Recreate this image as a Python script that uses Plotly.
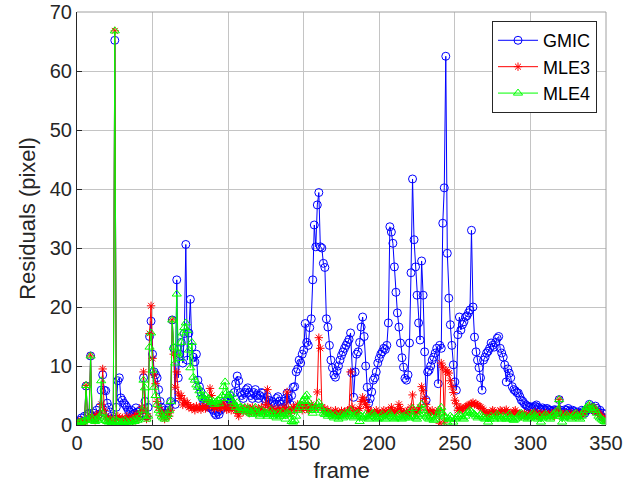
import plotly.graph_objects as go

# Per-frame residuals (pixels) for the three estimators, frames 0..350
gmic = [
    0.5, 0.3, 0.8, 1.2, 0.6, 1.5, 6.6, 1.8, 2.0, 11.7,
    1.5, 2.0, 1.2, 2.5, 1.8, 3.0, 5.9, 8.5, 5.9, 5.8,
    3.7, 3.0, 2.2, 1.5, 1.0, 65.2, 3.0, 7.5, 8.0, 4.6,
    4.2, 3.7, 3.4, 3.0, 2.5, 2.2, 2.5, 1.8, 2.0, 2.9,
    2.2, 1.5, 2.5, 2.0, 8.0, 4.0, 1.5, 3.0, 15.0, 17.6,
    12.0, 9.0, 8.5, 8.0, 6.0, 4.0, 3.0, 2.0, 2.5, 2.0,
    2.5, 3.0, 4.0, 17.8, 13.0, 3.5, 24.6, 8.0, 12.0, 14.0,
    10.5, 15.5, 30.6, 11.0, 15.6, 21.3, 13.2, 11.5, 10.7, 12.0,
    7.6, 6.5, 5.6, 4.5, 3.8, 4.2, 3.5, 3.0, 3.2, 2.8,
    2.5, 2.0, 1.7, 2.2, 1.8, 2.5, 3.0, 3.5, 4.0, 3.8,
    4.5, 5.0, 4.0, 3.5, 5.5, 7.0, 8.3, 7.5, 5.5, 5.0,
    4.5, 5.5, 6.0, 6.3, 5.5, 5.0, 4.5, 5.5, 6.0, 5.0,
    4.5, 5.0, 5.5, 5.4, 4.5, 4.0, 4.8, 4.2, 3.5, 4.0,
    3.8, 3.5, 4.5, 4.8, 4.0, 3.5, 3.0, 4.0, 4.5, 5.4,
    4.5, 3.5, 5.0, 6.4, 6.5, 9.0, 9.5, 11.0, 10.5, 12.0,
    12.7, 17.2, 14.0, 13.5, 16.5, 18.0, 24.6, 33.9, 30.2, 37.3,
    39.4, 30.2, 30.0, 27.4, 26.7, 18.0, 16.6, 13.5, 11.0, 9.7,
    8.5, 8.1, 9.2, 10.0, 11.0, 11.8, 12.4, 13.0, 13.5, 14.0,
    14.5, 15.6, 8.8, 4.7, 9.0, 12.0, 12.4, 14.0, 16.6, 18.3,
    15.0, 10.0, 6.4, 3.7, 4.5, 5.6, 7.6, 8.0, 9.0, 10.5,
    11.3, 12.0, 12.4, 13.0, 12.8, 13.5, 17.3, 33.6, 32.7, 30.8,
    26.8, 22.5, 19.0, 16.6, 13.9, 11.4, 9.8, 7.9, 7.6, 8.5,
    13.9, 25.8, 41.7, 31.4, 26.8, 22.0, 17.3, 14.4, 27.8, 22.0,
    12.4, 4.2, 9.0, 9.3, 10.0, 11.0, 11.5, 12.2, 13.0, 7.0,
    13.5, 13.0, 34.2, 40.2, 62.5, 29.1, 21.5, 17.0, 13.5, 10.2,
    7.3, 5.9, 15.3, 18.3, 16.1, 17.0, 17.5, 18.3, 18.5, 19.0,
    19.5, 33.0, 20.0, 14.9, 12.4, 11.0, 9.7, 8.0, 5.9, 11.0,
    11.5, 12.2, 12.5, 13.0, 13.9, 13.5, 13.2, 14.0, 14.7, 15.0,
    13.0, 12.2, 11.5, 10.2, 7.3, 9.5, 8.8, 8.0, 6.5, 6.0,
    5.8, 5.5, 5.4, 4.8, 4.2, 4.0, 3.6, 3.4, 3.2, 3.0,
    3.1, 2.8, 3.0, 3.2, 3.4, 3.0, 2.8, 2.6, 2.9, 2.7,
    2.5, 2.8, 2.6, 2.5, 2.3, 2.4, 2.6, 2.5, 2.2, 4.3,
    2.5, 2.0, 2.2, 2.6, 2.5, 2.8, 2.4, 2.2, 2.5, 2.3,
    2.0, 2.2, 1.8, 2.0, 2.5, 2.3, 2.0, 2.4, 2.6, 3.5,
    2.8, 3.0, 2.5, 3.2, 2.8, 2.2, 2.5, 1.5, 2.0, 1.8,
    1.2,
]

mle3 = [
    0.3, 0.5, 0.2, 0.8, 0.5, 0.6, 6.7, 1.0, 1.2, 11.7,
    1.5, 1.0, 0.8, 1.8, 1.2, 2.0, 3.5, 9.5, 2.5, 1.5,
    1.0, 0.8, 1.2, 0.6, 0.8, 66.8, 1.0, 1.5, 1.2, 0.8,
    1.2, 0.8, 1.0, 1.5, 0.8, 1.2, 1.0, 0.6, 1.4, 1.8,
    1.5, 1.0, 2.0, 3.0, 9.0, 2.5, 1.0, 1.5, 15.5, 20.2,
    11.3, 8.5, 7.0, 4.0, 3.0, 2.5, 1.5, 2.0, 1.0, 1.5,
    2.0, 1.5, 2.5, 17.8, 12.0, 6.4, 9.0, 5.4, 4.5, 5.0,
    3.4, 4.2, 3.5, 3.8, 3.0, 3.1, 2.8, 3.0, 2.5, 3.2,
    2.8, 3.0, 2.6, 3.0, 3.2, 2.8, 3.0, 4.0, 6.2, 5.0,
    3.0, 2.8, 3.2, 3.0, 2.9, 2.8, 3.5, 3.7, 3.0, 2.6,
    2.8, 3.0, 2.5, 3.5, 3.0, 2.5, 2.0, 1.5, 2.5, 3.0,
    2.2, 2.8, 2.5, 3.0, 2.0, 2.6, 3.0, 2.2, 2.5, 2.0,
    2.8, 2.5, 3.0, 2.5, 2.2, 3.5, 6.0, 3.0, 2.5, 2.8,
    2.2, 2.5, 2.0, 2.8, 2.4, 2.0, 2.5, 3.0, 2.2, 5.6,
    2.5, 2.0, 2.8, 3.0, 2.5, 3.0, 3.5, 2.8, 3.2, 2.5,
    3.0, 3.5, 2.8, 2.5, 3.0, 3.5, 3.2, 2.8, 3.0, 5.6,
    14.8, 13.0, 3.0, 2.5, 2.8, 2.2, 2.5, 2.0, 2.4, 1.8,
    2.0, 2.5, 2.2, 1.8, 2.0, 2.4, 2.0, 2.2, 1.8, 2.5,
    2.5, 9.0, 3.0, 2.5, 2.2, 2.0, 2.5, 2.8, 4.0, 4.7,
    4.2, 3.5, 3.0, 2.5, 2.0, 2.2, 1.8, 2.0, 2.5, 2.2,
    1.8, 2.0, 2.2, 2.5, 1.8, 2.0, 2.5, 2.2, 3.0, 2.5,
    2.0, 2.2, 2.5, 3.5, 2.8, 2.2, 2.0, 1.8, 2.2, 2.5,
    2.0, 3.0, 5.1, 2.5, 2.0, 2.2, 2.5, 3.0, 6.5, 5.8,
    4.5, 3.5, 2.5, 2.0, 2.2, 2.5, 2.0, 1.8, 2.2, 2.5,
    0.3, 10.5, 9.8, 0.5, 9.3, 9.0, 8.8, 7.5, 6.5, 5.5,
    4.2, 3.6, 2.5, 2.8, 3.0, 2.5, 2.8, 3.0, 3.2, 3.3,
    3.5, 3.6, 3.8, 3.5, 3.6, 3.4, 3.2, 3.0, 2.8, 2.5,
    2.2, 2.0, 1.8, 2.0, 2.2, 2.5, 2.3, 2.0, 1.8, 2.2,
    2.5, 2.3, 2.0, 2.4, 2.6, 2.2, 2.0, 1.8, 2.0, 2.3,
    2.5, 2.0, 1.8, 2.0, 1.5, 1.8, 2.0, 1.6, 1.5, 1.8,
    2.0, 1.5, 1.8, 2.2, 1.6, 1.5, 1.8, 2.0, 1.5, 1.8,
    2.0, 1.6, 1.8, 1.5, 2.0, 1.8, 1.5, 2.2, 2.5, 4.3,
    2.0, 1.5, 1.8, 2.0, 1.6, 1.5, 1.8, 2.0, 1.5, 1.7,
    1.8, 2.0, 1.5, 1.6, 1.8, 2.0, 2.2, 2.5, 2.8, 3.2,
    2.8, 2.5, 3.0, 2.6, 2.2, 2.0, 1.8, 1.5, 1.2, 1.0,
    0.8,
]

mle4 = [
    0.2, 0.4, 0.3, 0.6, 0.5, 0.8, 6.7, 0.8, 1.0, 11.7,
    1.2, 0.8, 0.6, 1.0, 0.8, 1.5, 7.5, 2.0, 1.2, 0.8,
    0.6, 0.5, 0.8, 0.4, 0.6, 66.8, 0.8, 0.6, 0.5, 0.4,
    0.6, 0.4, 0.8, 0.5, 0.3, 0.6, 0.5, 0.8, 0.6, 1.0,
    0.8, 1.2, 1.5, 2.5, 7.6, 6.3, 1.0, 1.5, 13.2, 15.6,
    9.3, 6.4, 5.0, 3.5, 2.5, 2.0, 1.5, 1.2, 1.0, 1.5,
    1.8, 2.5, 4.0, 17.8, 13.2, 10.5, 22.2, 12.2, 11.3, 14.0,
    15.6, 16.5, 17.3, 16.0, 12.7, 9.7, 14.0, 8.1, 7.6, 6.8,
    6.4, 5.8, 5.1, 4.8, 4.5, 5.0, 4.2, 4.5, 4.2, 3.8,
    4.0, 3.5, 3.9, 4.2, 3.6, 4.5, 5.0, 6.5, 7.3, 5.5,
    5.0, 4.5, 5.2, 4.0, 3.5, 3.0, 3.8, 2.5, 3.0, 2.8,
    2.5, 3.0, 2.2, 2.8, 2.5, 2.0, 1.8, 2.5, 3.0, 2.2,
    2.0, 1.5, 2.5, 1.8, 2.2, 2.0, 1.5, 1.8, 2.5, 2.0,
    1.5, 1.8, 1.2, 2.0, 1.5, 1.8, 2.2, 1.5, 1.0, 2.0,
    1.8, 2.5, 0.6, 0.5, 0.8, 1.5, 2.5, 3.0, 3.5, 4.0,
    4.2, 4.8, 5.1, 4.0, 3.0, 2.5, 2.0, 2.5, 3.0, 3.5,
    3.8, 3.0, 2.5, 2.0, 1.8, 2.2, 1.5, 2.0, 1.8, 1.5,
    1.2, 1.8, 1.5, 1.0, 1.5, 1.8, 1.2, 1.5, 2.0, 1.8,
    2.0, 2.5, 1.5, 1.2, 1.5, 1.8, 2.0, 0.6, 1.5, 1.2,
    1.5, 1.8, 1.2, 1.0, 1.5, 1.8, 2.0, 1.5, 1.2, 1.0,
    1.2, 1.5, 1.8, 1.2, 1.0, 1.5, 1.8, 2.0, 1.5, 1.2,
    1.0, 1.2, 1.5, 1.8, 1.2, 1.0, 1.5, 1.2, 1.8, 1.5,
    1.2, 1.5, 2.8, 1.5, 1.2, 1.0, 1.5, 1.8, 3.5, 2.5,
    2.0, 1.5, 1.2, 1.0, 1.5, 1.2, 0.8, 1.0, 1.5, 1.8,
    2.5, 3.0, 2.0, 1.5, 1.2, 0.5, 1.0, 1.5, 1.2, 0.5,
    1.0, 1.2, 1.5, 1.8, 1.5, 1.2, 1.0, 1.5, 2.0, 2.2,
    2.5, 2.2, 2.0, 1.8, 1.5, 1.2, 1.5, 1.8, 1.5, 1.2,
    1.0, 1.2, 0.5, 1.0, 1.5, 1.2, 1.0, 1.5, 1.8, 1.5,
    1.2, 1.0, 1.5, 1.2, 1.0, 1.5, 1.8, 1.2, 1.0, 0.8,
    1.0, 1.2, 1.5, 1.8, 2.0, 1.5, 1.2, 1.5, 1.0, 1.2,
    1.5, 1.8, 2.0, 1.5, 1.2, 1.0, 1.5, 0.5, 1.2, 1.5,
    1.8, 1.5, 1.2, 1.0, 1.5, 1.8, 2.0, 1.5, 2.5, 4.3,
    1.5, 0.5, 1.2, 1.5, 1.8, 1.5, 1.2, 1.0, 1.5, 1.8,
    2.0, 1.5, 1.2, 1.0, 1.5, 2.0, 2.5, 3.0, 3.2, 3.5,
    2.8, 2.5, 3.0, 2.5, 2.0, 1.5, 1.2, 1.0, 0.8, 0.6,
    0.5,
]

x_ticks = [0, 50, 100, 150, 200, 250, 300, 350]
y_ticks = [0, 10, 20, 30, 40, 50, 60, 70]

FONT = "Liberation Sans, Arial, Helvetica, sans-serif"
AXIS_COLOR = "#262626"
GRID_COLOR = "#c4c4c4"

series = [
    ("GMIC", gmic, "#0000ff", "circle-open", 8),
    ("MLE3", mle3, "#ff0000", "asterisk-open", 7),
    ("MLE4", mle4, "#00ff00", "triangle-up-open", 8),
]

fig = go.Figure()
for name, vals, color, symbol, size in series:
    fig.add_trace(go.Scatter(
        x=list(range(len(vals))),
        y=vals,
        name=name,
        mode="lines+markers",
        line=dict(color=color, width=1),
        marker=dict(symbol=symbol, size=size, color=color,
                    line=dict(color=color, width=1)),
    ))

axis_common = dict(
    automargin=True,
    showgrid=True,
    gridcolor=GRID_COLOR,
    gridwidth=1,
    zeroline=False,
    showline=True,
    linecolor=AXIS_COLOR,
    linewidth=1,
    ticks="inside",
    ticklen=5,
    tickcolor=AXIS_COLOR,
    tickfont=dict(family=FONT, size=20, color=AXIS_COLOR),
)

fig.update_xaxes(
    range=[0, 350],
    tickvals=x_ticks,
    title=dict(text="frame", font=dict(family=FONT, size=22, color=AXIS_COLOR),
               standoff=9),
    **axis_common,
)
fig.update_yaxes(
    range=[0, 70],
    tickvals=y_ticks,
    title=dict(text="Residuals (pixel)", font=dict(family=FONT, size=22, color=AXIS_COLOR),
               standoff=8),
    **axis_common,
)

# light frame on the top and right edges of the axes box
fig.add_shape(type="line", xref="paper", yref="paper", x0=0, x1=1, y0=1, y1=1,
              line=dict(color="#a0a0a0", width=1))
fig.add_shape(type="line", xref="paper", yref="paper", x0=1, x1=1, y0=0, y1=1,
              line=dict(color="#a0a0a0", width=1))

fig.update_layout(
    width=639,
    height=491,
    margin=dict(l=77, r=33, t=12, b=66, autoexpand=False),
    paper_bgcolor="white",
    plot_bgcolor="white",
    font=dict(family=FONT, color=AXIS_COLOR),
    legend=dict(
        x=0.983, y=0.978, xanchor="right", yanchor="top",
        bgcolor="white",
        bordercolor=AXIS_COLOR,
        borderwidth=1,
        font=dict(family=FONT, size=18, color="black"),
        itemwidth=40,
        tracegroupgap=0,
    ),
    showlegend=True,
)

fig.write_html("out.html")
